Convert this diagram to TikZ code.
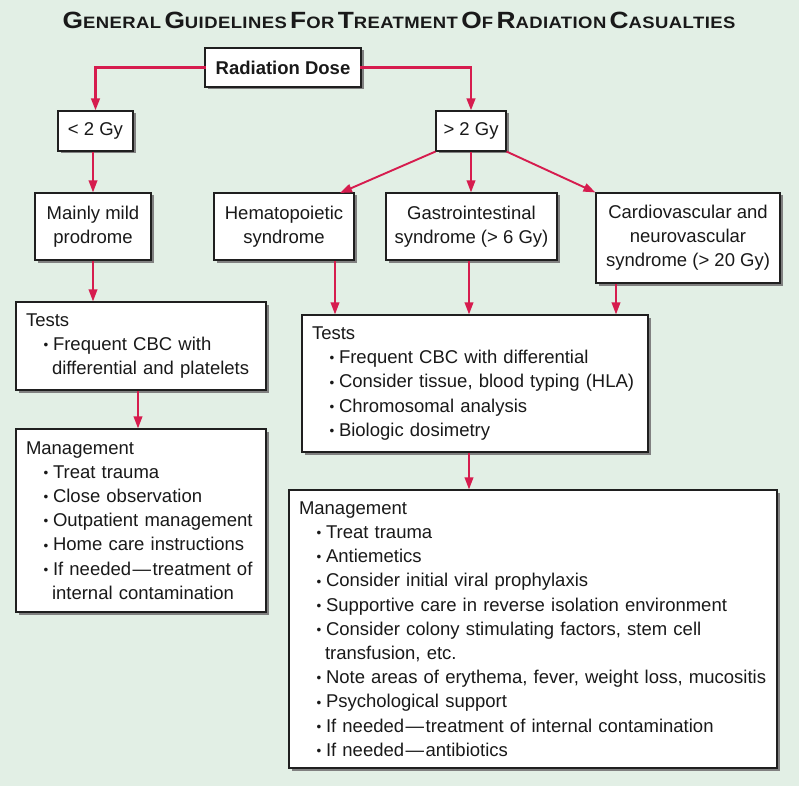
\documentclass[tikz,border=0pt]{standalone}
\usepackage{fontspec}
\setmainfont{Liberation Sans}
\newfontfamily\titlefont[FakeStretch=1.12,LetterSpace=2.5]{Liberation Sans}
\usetikzlibrary{shadows,arrows.meta,calc}
\definecolor{bgc}{RGB}{226,239,229}
\definecolor{arrc}{RGB}{214,28,78}
\definecolor{txtc}{RGB}{25,25,25}
\newcommand{\bigC}[1]{{\fontsize{23.5}{24}\selectfont #1}}
\newcommand{\smC}[1]{{\fontsize{16.5}{24}\selectfont #1}}
\newcommand{\mybul}{\hspace*{17.5pt}\makebox[9.5pt][l]{\raisebox{0.8pt}{\fontsize{13.5}{13.5}\selectfont •}}}
\newcommand{\mycont}{\hspace*{26pt}}
\newcommand{\mdash}{\kern1.5pt—\kern1.5pt}
\tikzset{
  box/.style={draw=black!88, line width=1.1pt, fill=white, text=txtc,
    drop shadow={shadow xshift=2.5pt, shadow yshift=-2.5pt, fill=black!50, opacity=1},
    font=\fontsize{18.5}{24.2}\selectfont, inner sep=0pt, align=center},
  lbox/.style={box, align=left, inner xsep=10pt},
  conn/.style={draw=arrc, line width=1.9pt},
  topconn/.style={conn, line width=2.4pt},
  arw/.style={conn, -{Triangle[length=12pt,width=8.5pt]}},
}
\begin{document}
\begin{tikzpicture}[x=1pt,y=-1pt]
\fill[bgc] (0,0) rectangle (799,786);
\useasboundingbox (0,0) rectangle (799,786);

\node[anchor=base, font=\titlefont\bfseries, text=txtc] (title) at (399,28.5)
  {\bigC{G}\smC{ENERAL} \bigC{G}\smC{UIDELINES} \bigC{F}\smC{OR} \bigC{T}\smC{REATMENT} \bigC{O}\smC{F} \bigC{R}\smC{ADIATION} \bigC{C}\smC{ASUALTIES}};

\node[box, minimum width=156pt, minimum height=39pt, font=\fontsize{18.5}{24.2}\selectfont\bfseries] (dose) at (283,67.5) {Radiation Dose};
\node[box, minimum width=75pt, minimum height=40pt] (lt) at (95.5,131) {< 2 Gy};
\node[box, minimum width=70pt, minimum height=40pt] (gt) at (471,131) {> 2 Gy};
\node[box, minimum width=116pt, minimum height=67pt] (mild) at (93,226.5) {Mainly mild\\prodrome};
\node[box, minimum width=140pt, minimum height=67pt] (hema) at (284,226.5) {Hematopoietic\\syndrome};
\node[box, minimum width=171pt, minimum height=67pt] (gi) at (471.5,226.5) {Gastrointestinal\\syndrome (> 6 Gy)};
\node[box, minimum width=184pt, minimum height=90pt] (cardio) at (688,238) {Cardiovascular and\\neurovascular\\syndrome (> 20 Gy)};

\node[lbox, text width=230pt, minimum width=250pt, minimum height=88pt] (testsL) at (141,346)
  {\mbox{Tests}\\
   \mbox{\mybul Frequent CBC with}\\
   \mbox{\mycont differential and platelets}};
\node[lbox, text width=230pt, minimum width=250pt, minimum height=183pt] (mgmtL) at (141,520.5)
  {\mbox{Management}\\
   \mbox{\mybul Treat trauma}\\
   \mbox{\mybul Close observation}\\
   \mbox{\mybul Outpatient management}\\
   \mbox{\mybul Home care instructions}\\
   \mbox{\mybul If needed\mdash treatment of}\\
   \mbox{\mycont internal contamination}};
\node[lbox, text width=326pt, minimum width=346pt, minimum height=137pt] (testsR) at (475,383.5)
  {\mbox{Tests}\\
   \mbox{\mybul Frequent CBC with differential}\\
   \mbox{\mybul Consider tissue, blood typing (HLA)}\\
   \mbox{\mybul Chromosomal analysis}\\
   \mbox{\mybul Biologic dosimetry}};
\node[lbox, text width=468pt, minimum width=488pt, minimum height=278pt] (mgmtR) at (533,629)
  {\mbox{Management}\\
   \mbox{\mybul Treat trauma}\\
   \mbox{\mybul Antiemetics}\\
   \mbox{\mybul Consider initial viral prophylaxis}\\
   \mbox{\mybul Supportive care in reverse isolation environment}\\
   \mbox{\mybul Consider colony stimulating factors, stem cell}\\
   \mbox{\mycont transfusion, etc.}\\
   \mbox{\mybul Note areas of erythema, fever, weight loss, mucositis}\\
   \mbox{\mybul Psychological support}\\
   \mbox{\mybul If needed\mdash treatment of internal contamination}\\
   \mbox{\mybul If needed\mdash antibiotics}};

\coordinate (xh) at (335,0);
\coordinate (xg) at (469,0);
\coordinate (xc) at (616,0);
\coordinate (xtl) at (138,0);
\coordinate (hemaTip) at (340,193);
\coordinate (cornL) at (dose.west -| lt.north);
\coordinate (cornR) at (dose.east -| gt.north);

\draw[topconn, line cap=rect] (dose.west) -- (cornL);
\draw[arw, topconn] (cornL) -- (lt.north);
\draw[topconn, line cap=rect] (dose.east) -- (cornR);
\draw[arw, topconn] (cornR) -- (gt.north);
\draw[arw] (mild.north |- lt.south) -- (mild.north);
\draw[arw] (gt.south west) -- (hemaTip);
\draw[arw] (gt.south) -- (gt.south |- gi.north);
\draw[arw] (gt.south east) -- (cardio.north west);
\draw[arw] (mild.south) -- (mild.south |- testsL.north);
\draw[arw] (xtl |- testsL.south) -- (xtl |- mgmtL.north);
\draw[arw] (xh |- hema.south) -- (xh |- testsR.north);
\draw[arw] (xg |- gi.south) -- (xg |- testsR.north);
\draw[arw] (xc |- cardio.south) -- (xc |- testsR.north);
\draw[arw] (xg |- testsR.south) -- (xg |- mgmtR.north);
\end{tikzpicture}
\end{document}
